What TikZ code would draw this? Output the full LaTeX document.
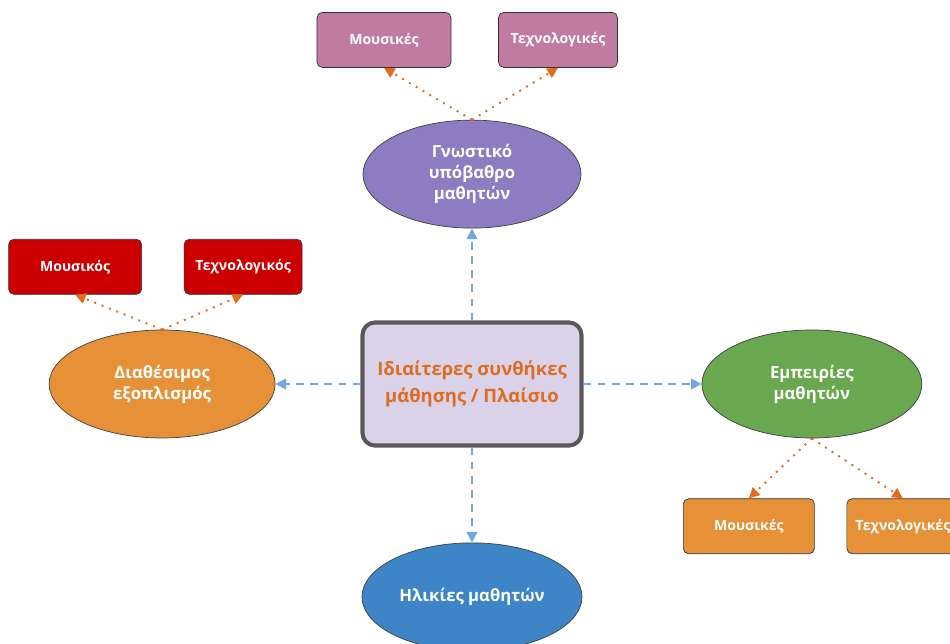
\documentclass[tikz,border=0pt]{standalone}
\usepackage{fontspec}
\setmainfont{Open Sans}
\usetikzlibrary{arrows.meta,shapes.geometric,positioning}

\definecolor{mauve}{HTML}{C27BA0}
\definecolor{lilac}{HTML}{8E7CC3}
\definecolor{brick}{HTML}{CC0000}
\definecolor{amber}{HTML}{E69138}
\definecolor{leaf}{HTML}{6AA84F}
\definecolor{ocean}{HTML}{3D85C6}
\definecolor{lavender}{HTML}{D9D2E9}
\definecolor{rust}{HTML}{E06C1F}
\definecolor{sky}{HTML}{6FA8DC}

\begin{document}
\begin{tikzpicture}[-,auto,semithick]
   \tikzstyle{oval}=[ellipse,draw=black!75,thin,inner sep=0pt,minimum height=2.16cm,
                     align=center,text=white,font=\bfseries\fontsize{9.5}{12}\selectfont]
   \tikzstyle{leafbox}=[rectangle,rounded corners=3pt,draw=black!80,thin,minimum height=1.1cm,
                        text=white,font=\bfseries\fontsize{8}{10}\selectfont]
   \tikzstyle{frame}=[rectangle,rounded corners=0.25cm,draw=black!65,line width=2.3pt,fill=lavender,
                      minimum width=4.38cm,minimum height=2.46cm,align=center,text=rust,
                      font=\bfseries\fontsize{10.5}{15}\selectfont]
   \tikzstyle{link}=[draw=sky,line width=1.1pt,dash pattern=on 4.5pt off 3.5pt,
                     -{Triangle[length=6pt,width=6pt]}]
   \tikzstyle{sub}=[draw=rust,line width=1.1pt,dash pattern=on 1.1pt off 3.4pt,
                    -{Triangle[length=6pt,width=6pt]}]

   \useasboundingbox (-9.44,-5.2) rectangle (9.56,7.68);

   \node[frame] (P) at (0,0) {Ιδιαίτερες συνθήκες\\μάθησης / Πλαίσιο};

   \node[oval,fill=lilac,minimum width=4.36cm] (G) [above=1.84cm of P] {Γνωστικό\\υπόβαθρο\\μαθητών};
   \node[oval,fill=ocean,minimum width=4.4cm]  (H) [below=1.9cm of P]  {Ηλικίες μαθητών};
   \node[oval,fill=amber,minimum width=4.52cm] (D) [left=1.7cm of P]   {Διαθέσιμος\\εξοπλισμός};
   \node[oval,fill=leaf,minimum width=4.4cm]   (E) [right=2.36cm of P] {Εμπειρίες\\μαθητών};

   \node[leafbox,fill=mauve,minimum width=2.68cm] (GM) [above=1.04cm of G,xshift=-1.76cm] {Μουσικές};
   \node[leafbox,fill=mauve,minimum width=2.38cm] (GT) [above=1.04cm of G,xshift=1.72cm]  {Τεχνολογικές};
   \node[leafbox,fill=brick,minimum width=2.66cm] (DM) [above=0.7cm of D,xshift=-1.74cm]  {Μουσικός};
   \node[leafbox,fill=brick,minimum width=2.36cm] (DT) [above=0.7cm of D,xshift=1.62cm]   {Τεχνολογικός};
   \node[leafbox,fill=amber,minimum width=2.62cm] (EM) [below=1.2cm of E,xshift=-1.26cm]  {Μουσικές};
   \node[leafbox,fill=amber,minimum width=2.24cm] (ET) [below=1.2cm of E,xshift=1.82cm]   {Τεχνολογικές};

   \path (P) edge[link] (G)
             edge[link] (H)
             edge[link] (D)
             edge[link] (E);

   \path (G.north) edge[sub] (GM.south)
                   edge[sub] (GT.south)
         (D.north) edge[sub] (DM.south)
                   edge[sub] (DT.south)
         (E.south) edge[sub] (EM.north)
                   edge[sub] (ET.north);
\end{tikzpicture}
\end{document}
